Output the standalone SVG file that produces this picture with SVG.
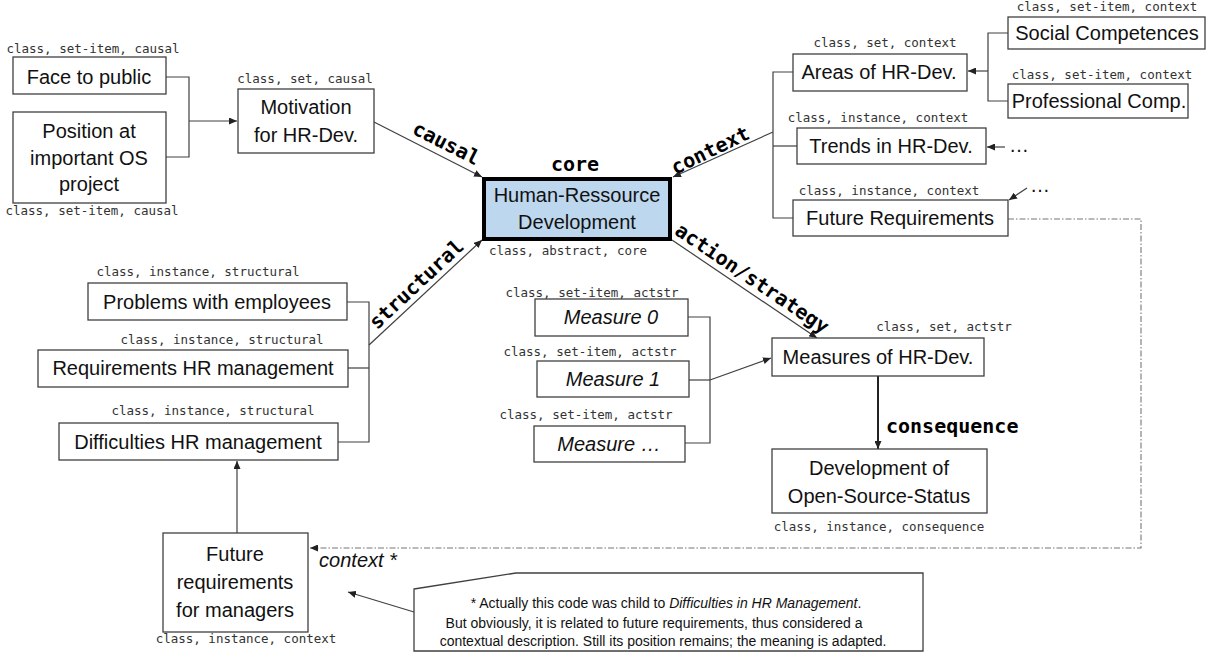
<svg xmlns="http://www.w3.org/2000/svg" width="1206" height="652" viewBox="0 0 1206 652">
<style>
.box{fill:#fff;stroke:#404040;stroke-width:1.3}
.t{font-family:"Liberation Sans",Arial,sans-serif;font-size:20px;fill:#111;text-anchor:middle}
.it{font-style:italic}
.m{font-family:"DejaVu Sans Mono","Liberation Mono",monospace;font-size:12.5px;fill:#333;text-anchor:middle}
.b{font-family:"DejaVu Sans Mono","Liberation Mono",monospace;font-size:20px;font-weight:bold;fill:#000;text-anchor:middle}
.ln{fill:none;stroke:#404040;stroke-width:1.2}
.dd{fill:none;stroke:#777;stroke-width:1.1;stroke-dasharray:6 2 1.5 2}
.n{font-family:"Liberation Sans",Arial,sans-serif;font-size:14px;fill:#111;text-anchor:middle}
</style>
<defs>
<marker id="arr" markerUnits="userSpaceOnUse" markerWidth="9" markerHeight="7" refX="8" refY="3.5" orient="auto">
<path d="M0,0 L8,3.5 L0,7 z" fill="#222"/>
</marker>
</defs>
<rect width="1206" height="652" fill="#fff"/>

<g id="connectors">
<polyline class="ln" points="166,77 189,77 189,157 166,157"/>
<line class="ln" x1="189" y1="121" x2="237" y2="121" marker-end="url(#arr)"/>
<line class="ln" x1="374" y1="122" x2="482" y2="177" marker-end="url(#arr)"/>
<polyline class="ln" points="347,302 369,302 369,442 338,442"/>
<line class="ln" x1="348" y1="368" x2="369" y2="368"/>
<line class="ln" x1="369" y1="345" x2="482" y2="240" marker-end="url(#arr)"/>
<line class="ln" x1="237" y1="533" x2="237" y2="461" marker-end="url(#arr)"/>
<polyline class="ln" points="1008,33 988,33 988,101 1008,101"/>
<line class="ln" x1="988" y1="71" x2="968" y2="71" marker-end="url(#arr)"/>
<polyline class="ln" points="793,72 773,72 773,218 793,218"/>
<line class="ln" x1="773" y1="146" x2="797" y2="146"/>
<line class="ln" x1="773" y1="132" x2="673" y2="177" marker-end="url(#arr)"/>
<line class="ln" x1="1005" y1="147" x2="987" y2="147" marker-end="url(#arr)"/>
<line class="ln" x1="1027" y1="188" x2="1009" y2="200" marker-end="url(#arr)"/>
<line class="ln" x1="672" y1="240" x2="817" y2="338" marker-end="url(#arr)"/>
<polyline class="ln" points="688,317 710,317 710,443 685,443"/>
<line class="ln" x1="689" y1="380" x2="710" y2="380"/>
<line class="ln" x1="710" y1="380" x2="771" y2="358" marker-end="url(#arr)"/>
<line x1="878" y1="376" x2="878" y2="449" stroke="#222" stroke-width="2" marker-end="url(#arr)"/>
<polyline class="dd" points="1008,219 1141,219 1141,548 310,548" marker-end="url(#arr)"/>
<line class="ln" x1="414" y1="612" x2="348" y2="592" marker-end="url(#arr)"/>
<text class="b" transform="translate(440,155.6) rotate(27)" y="-7">causal</text>
<text class="b" transform="translate(425,293.5) rotate(-43)" y="-6">structural</text>
<text class="b" transform="translate(715,160) rotate(-26)" y="-4">context</text>
<text class="b" transform="translate(745,289) rotate(34)" y="-6">action/strategy</text>
<text class="b" x="886" y="433" style="text-anchor:start">consequence</text>
<text class="t it" x="358" y="567">context *</text>
</g>

<g id="core">
<text class="b" x="575" y="171">core</text>
<rect x="484" y="179" width="186" height="60" fill="#BDD7EE" stroke="#000" stroke-width="4"/>
<text class="t" x="577" y="202">Human-Ressource</text>
<text class="t" x="577" y="229">Development</text>
<text class="m" x="568" y="255">class, abstract, core</text>
</g>

<g id="face">
<text class="m" x="93" y="53">class, set-item, causal</text>
<rect class="box" x="13" y="57" width="153" height="37"/>
<text class="t" x="89" y="84">Face to public</text>
</g>

<g id="position">
<rect class="box" x="13" y="112" width="153" height="91"/>
<text class="t" x="89" y="138">Position at</text>
<text class="t" x="89" y="165">important OS</text>
<text class="t" x="89" y="191">project</text>
<text class="m" x="92" y="215">class, set-item, causal</text>
</g>

<g id="motivation">
<text class="m" x="305" y="83">class, set, causal</text>
<rect class="box" x="238" y="89" width="136" height="64"/>
<text class="t" x="306" y="114">Motivation</text>
<text class="t" x="306" y="142">for HR-Dev.</text>
</g>

<g id="problems">
<text class="m" x="198" y="276">class, instance, structural</text>
<rect class="box" x="88" y="283" width="259" height="37"/>
<text class="t" x="217" y="309">Problems with employees</text>
</g>

<g id="requirements">
<text class="m" x="222" y="344">class, instance, structural</text>
<rect class="box" x="38" y="350" width="310" height="37"/>
<text class="t" x="193" y="375">Requirements HR management</text>
</g>

<g id="difficulties">
<text class="m" x="213" y="415">class, instance, structural</text>
<rect class="box" x="59" y="423" width="279" height="37"/>
<text class="t" x="198" y="449">Difficulties HR management</text>
</g>

<g id="future-managers">
<rect class="box" x="163" y="533" width="145" height="99"/>
<text class="t" x="235" y="561">Future</text>
<text class="t" x="235" y="589">requirements</text>
<text class="t" x="235" y="617">for managers</text>
<text class="m" x="246" y="643">class, instance, context</text>
</g>

<g id="social">
<text class="m" x="1107" y="11">class, set-item, context</text>
<rect class="box" x="1008" y="17" width="197" height="32"/>
<text class="t" x="1107" y="40">Social Competences</text>
</g>

<g id="professional">
<text class="m" x="1102" y="79">class, set-item, context</text>
<rect class="box" x="1008" y="84" width="180" height="34"/>
<text class="t" x="1099" y="108">Professional  Comp.</text>
</g>

<g id="areas">
<text class="m" x="885" y="47">class, set, context</text>
<rect class="box" x="793" y="54" width="174" height="37"/>
<text class="t" x="879" y="79">Areas of HR-Dev.</text>
</g>

<g id="trends">
<text class="m" x="878" y="122">class, instance, context</text>
<rect class="box" x="797" y="128" width="189" height="36"/>
<text class="t" x="891" y="153">Trends in HR-Dev.</text>
<text class="t" x="1019" y="152">…</text>
</g>

<g id="future-req">
<text class="m" x="889" y="195">class, instance, context</text>
<rect class="box" x="793" y="200" width="215" height="36"/>
<text class="t" x="900" y="225">Future Requirements</text>
<text class="t" x="1040" y="192">…</text>
</g>

<g id="measure0">
<text class="m" x="592" y="297">class, set-item, actstr</text>
<rect class="box" x="535" y="299" width="153" height="37"/>
<text class="t it" x="611" y="324">Measure 0</text>
</g>

<g id="measure1">
<text class="m" x="590" y="356">class, set-item, actstr</text>
<rect class="box" x="537" y="361" width="152" height="36"/>
<text class="t it" x="613" y="386">Measure 1</text>
</g>

<g id="measure-n">
<text class="m" x="586" y="419">class, set-item, actstr</text>
<rect class="box" x="534" y="426" width="151" height="36"/>
<text class="t it" x="609" y="451">Measure …</text>
</g>

<g id="measures">
<text class="m" x="944" y="331">class, set, actstr</text>
<rect class="box" x="772" y="338" width="212" height="38"/>
<text class="t" x="878" y="364">Measures of HR-Dev.</text>
</g>

<g id="development">
<rect class="box" x="772" y="449" width="215" height="64"/>
<text class="t" x="879" y="475">Development of</text>
<text class="t" x="879" y="503">Open-Source-Status</text>
<text class="m" x="879" y="531">class, instance, consequence</text>
</g>

<g id="note">
<polygon class="box" points="414,589 516,573 923,573 923,651 414,651"/>
<text class="n" x="666" y="608">* Actually this code was child to <tspan font-style="italic">Difficulties in HR Management</tspan>.</text>
<text class="n" x="654" y="628">But obviously,  it is related to future requirements, thus  considered a</text>
<text class="n" x="663" y="646">contextual  description. Still its position remains; the meaning is adapted.</text>
</g>
</svg>
